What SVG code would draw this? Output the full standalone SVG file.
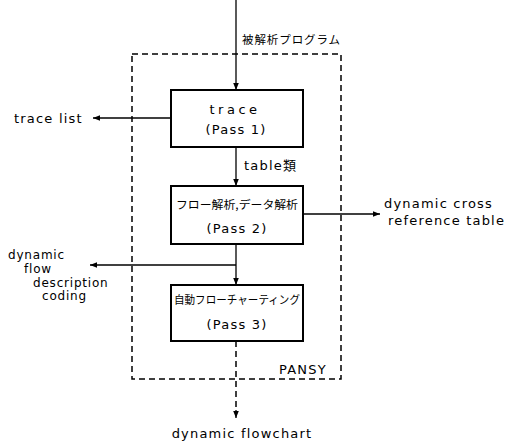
<svg xmlns="http://www.w3.org/2000/svg" width="512" height="442" viewBox="0 0 512 442">
<style>
.t{font-family:"DejaVu Sans","Noto Sans CJK JP",sans-serif;font-size:13px;letter-spacing:1.2px;fill:#000}
.s{font-family:"DejaVu Sans",sans-serif;font-size:12px;letter-spacing:0.8px;fill:#000}
.j{font-family:"Noto Sans CJK JP",sans-serif;font-size:11.5px;fill:#000}
.m{text-anchor:middle}
.w{letter-spacing:3.5px}
.box{fill:#fff;stroke:#000;stroke-width:2}
.ln{stroke:#000;stroke-width:1.3;fill:none}
.dash{stroke:#000;stroke-width:1.5;fill:none;stroke-dasharray:6 4}
</style>
<defs>
<marker id="ah" viewBox="0 0 10 10" refX="10" refY="5" markerWidth="9" markerHeight="7" markerUnits="userSpaceOnUse" orient="auto"><path d="M0,1 L10,5 L0,9 z" fill="#000"/></marker>
</defs>
<rect id="pansy" x="132" y="54" width="209" height="325" class="dash"/>
<text class="t" x="279" y="374">PANSY</text>
<g id="connectors">
<line class="ln" x1="236" y1="0" x2="236" y2="90" marker-end="url(#ah)"/>
<line class="ln" x1="171" y1="118" x2="93" y2="118" marker-end="url(#ah)"/>
<line class="ln" x1="236" y1="147" x2="236" y2="186" marker-end="url(#ah)"/>
<line class="ln" x1="303" y1="214" x2="380" y2="214" marker-end="url(#ah)"/>
<line class="ln" x1="236" y1="244" x2="236" y2="285" marker-end="url(#ah)"/>
<line class="ln" x1="236" y1="265" x2="90" y2="265" marker-end="url(#ah)"/>
<line class="dash" x1="236" y1="341" x2="236" y2="413"/>
<line class="ln" x1="236" y1="410" x2="236" y2="418" marker-end="url(#ah)"/>
</g>
<text class="j" x="242" y="44" textLength="98" lengthAdjust="spacing">被解析プログラム</text>
<text class="t" x="14" y="123">trace list</text>
<text class="t" x="244" y="170">table類</text>
<text class="t" x="384" y="208">dynamic cross</text>
<text class="t" x="388" y="225">reference table</text>
<text class="s" x="8" y="259">dynamic</text>
<text class="s" x="24" y="273">flow</text>
<text class="s" x="33" y="287">description</text>
<text class="s" x="42" y="300">coding</text>
<text class="t m" x="242" y="438">dynamic flowchart</text>
<g id="pass1">
<rect class="box" x="171" y="90" width="132" height="57"/>
<text class="t m w" x="235" y="114">trace</text>
<text class="t m" x="236" y="134">(Pass 1)</text>
</g>
<g id="pass2">
<rect class="box" x="171" y="186" width="132" height="58"/>
<text class="j m" x="237" y="209" textLength="122" lengthAdjust="spacingAndGlyphs">フロー解析,データ解析</text>
<text class="t m" x="237" y="233">(Pass 2)</text>
</g>
<g id="pass3">
<rect class="box" x="171" y="285" width="132" height="56"/>
<text class="j m" x="237" y="304" textLength="126" lengthAdjust="spacingAndGlyphs">自動フローチャーティング</text>
<text class="t m" x="237" y="329">(Pass 3)</text>
</g>
</svg>
